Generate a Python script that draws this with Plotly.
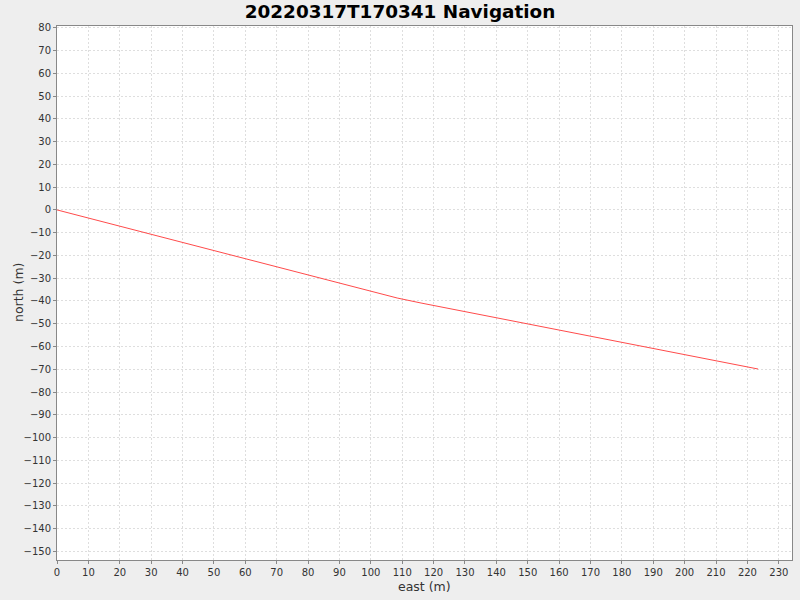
import plotly.graph_objects as go

# track (metres)
east = [0, 100, 108.4, 116, 223.4]
north = [0, -35.8, -38.7, -40.9, -69.9]

x_range = [0, 234.2]
y_range = [-153.8, 80.8]

fig = go.Figure()
fig.add_trace(go.Scatter(x=east, y=north, mode="lines",
                         line=dict(color="#ff4b4b", width=1),
                         showlegend=False))

axis_style = dict(
    showgrid=True, gridcolor="#dedede", griddash="2px,2px", gridwidth=1,
    zeroline=False, showline=True, linecolor="#888888", linewidth=1,
    mirror=True, ticks="outside", ticklen=3, tickcolor="#888888",
    dtick=10, automargin=False,
    tickfont=dict(family="DejaVu Sans", size=10, color="#333333"),
)
fig.update_xaxes(range=x_range, **axis_style)
fig.update_yaxes(range=y_range, **axis_style)

# axis titles as annotations so they sit where the reference has them
label_font = dict(family="DejaVu Sans", size=12.5, color="#333333")
fig.add_annotation(text="east (m)", xref="paper", yref="paper", x=0.5, y=0,
                   xanchor="center", yanchor="middle", yshift=-26,
                   showarrow=False, font=label_font)
fig.add_annotation(text="north (m)", xref="paper", yref="paper", x=0, y=0.5,
                   xanchor="center", yanchor="middle", xshift=-39, textangle=-90,
                   showarrow=False, font=label_font)

fig.update_layout(
    width=800, height=600,
    paper_bgcolor="#eeeeee", plot_bgcolor="white",
    margin=dict(l=57, r=8, t=26, b=40),
    title=dict(text="<b>20220317T170341 Navigation</b>", x=0.5, xanchor="center",
               y=0.98, yanchor="middle", yref="container",
               font=dict(family="DejaVu Sans", size=18.4, color="black")),
)

# the page's default body margin would shift the figure, drop it
fig.write_html("out.html", config={"displayModeBar": False},
               post_script="document.body.style.margin='0';")
